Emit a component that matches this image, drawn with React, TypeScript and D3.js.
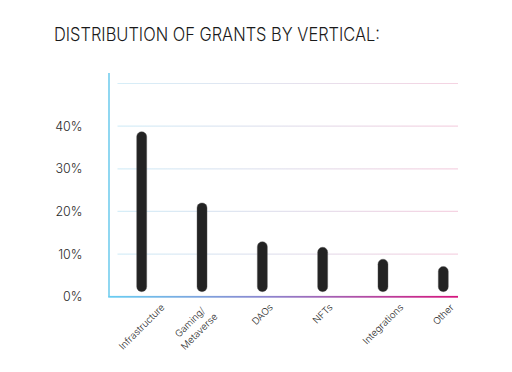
import React, { useRef, useEffect } from 'react';
import * as d3 from 'd3';

const categories = ['Infrastructure', 'Gaming/\nMetaverse', 'DAOs', 'NFTs', 'Integrations', 'Other'];
const shares = [38.7, 22.0, 12.9, 11.6, 8.8, 7.1];
const yTicks = [0, 10, 20, 30, 40];
const gridTicks = [10, 20, 30, 40, 50];

const App = () => {
  const svgRef = useRef<SVGSVGElement>(null);

  useEffect(() => {
    const width = 512;
    const height = 372;
    const svg = d3.select(svgRef.current);
    svg.selectAll('*').remove();

    const x = d3.scalePoint<string>()
      .domain(categories)
      .range([141.7, 443.3]);

    const y = d3.scaleLinear()
      .domain([0, 50])
      .range([296.7, 83.5]);

    const defs = svg.append('defs');
    const axisGrad = defs.append('linearGradient')
      .attr('id', 'axisGrad')
      .attr('gradientUnits', 'userSpaceOnUse')
      .attr('x1', 109).attr('x2', 458).attr('y1', 0).attr('y2', 0);
    axisGrad.append('stop').attr('offset', '0%').attr('stop-color', '#69cdf2');
    axisGrad.append('stop').attr('offset', '45%').attr('stop-color', '#8c86cf');
    axisGrad.append('stop').attr('offset', '100%').attr('stop-color', '#d6157d');

    const gridGrad = defs.append('linearGradient')
      .attr('id', 'gridGrad')
      .attr('gradientUnits', 'userSpaceOnUse')
      .attr('x1', 117).attr('x2', 458).attr('y1', 0).attr('y2', 0);
    gridGrad.append('stop').attr('offset', '0%').attr('stop-color', '#d6eef8');
    gridGrad.append('stop').attr('offset', '50%').attr('stop-color', '#e4e2ee');
    gridGrad.append('stop').attr('offset', '100%').attr('stop-color', '#f5d3e2');

    // title
    svg.append('text')
      .attr('x', 54)
      .attr('y', 40.5)
      .attr('font-family', 'Inter, sans-serif')
      .attr('font-weight', 300)
      .attr('font-size', 18)
      .attr('fill', '#1a1a1a')
      .attr('textLength', 326)
      .attr('lengthAdjust', 'spacingAndGlyphs')
      .text('DISTRIBUTION OF GRANTS BY VERTICAL:');

    // gridlines
    svg.append('g')
      .selectAll('line')
      .data(gridTicks)
      .join('line')
      .attr('x1', 117.5)
      .attr('x2', 458)
      .attr('y1', d => y(d))
      .attr('y2', d => y(d))
      .attr('stroke', 'url(#gridGrad)')
      .attr('stroke-width', 1.2);

    // y labels
    svg.append('g')
      .selectAll('text')
      .data(yTicks)
      .join('text')
      .attr('x', 82.5)
      .attr('y', d => y(d))
      .attr('dy', '0.36em')
      .attr('text-anchor', 'end')
      .attr('font-family', 'Inter, sans-serif')
      .attr('font-weight', 300)
      .attr('font-size', 12.5)
      .attr('fill', '#2a2a2a')
      .text(d => `${d}%`);

    // axes
    svg.append('line')
      .attr('x1', 109).attr('x2', 109)
      .attr('y1', 73).attr('y2', y(0))
      .attr('stroke', '#74cdee')
      .attr('stroke-width', 1.6);

    svg.append('rect')
      .attr('x', 108.2)
      .attr('y', y(0) - 0.8)
      .attr('width', 458 - 108.2)
      .attr('height', 1.8)
      .attr('fill', 'url(#axisGrad)');

    // bars
    const barW = 10;
    svg.append('g')
      .selectAll('rect')
      .data(categories)
      .join('rect')
      .attr('x', d => (x(d) as number) - barW / 2)
      .attr('y', (d, i) => y(shares[i]))
      .attr('width', barW)
      .attr('height', (d, i) => y(0) - 5 - y(shares[i]))
      .attr('rx', barW / 2)
      .attr('fill', '#232323')
      .attr('stroke', '#555')
      .attr('stroke-width', 0.4);

    // x labels, rotated, centred under each bar
    const labelTop = 303.5;
    const lineH = 13;
    categories.forEach(cat => {
      const lines = cat.split('\n');
      const g = svg.append('g');
      const t = g.append('text')
        .attr('font-family', 'Inter, sans-serif')
        .attr('font-weight', 300)
        .attr('font-size', 9.6)
        .attr('fill', '#2e2e2e')
        .attr('text-anchor', 'middle');
      lines.forEach((ln, j) => {
        t.append('tspan')
          .attr('x', 0)
          .attr('y', (j - (lines.length - 1) / 2) * lineH)
          .attr('dy', '0.35em')
          .text(ln);
      });
      const w = (t.node() as SVGTextElement).getBBox().width;
      const hgt = (lines.length - 1) * lineH;
      const cx = (x(cat) as number) - (lines.length > 1 ? 7.5 : 0);
      const cy = labelTop + w * 0.3536 + hgt * 0.3536 + 2;
      g.attr('transform', `translate(${cx},${cy}) rotate(-45)`);
    });

    svg.attr('width', width).attr('height', height);
  }, []);

  return (
    <svg
      ref={svgRef}
      width={512}
      height={372}
      style={{ position: 'absolute', left: 0, top: 0, background: '#fff' }}
    />
  );
};

export default App;
